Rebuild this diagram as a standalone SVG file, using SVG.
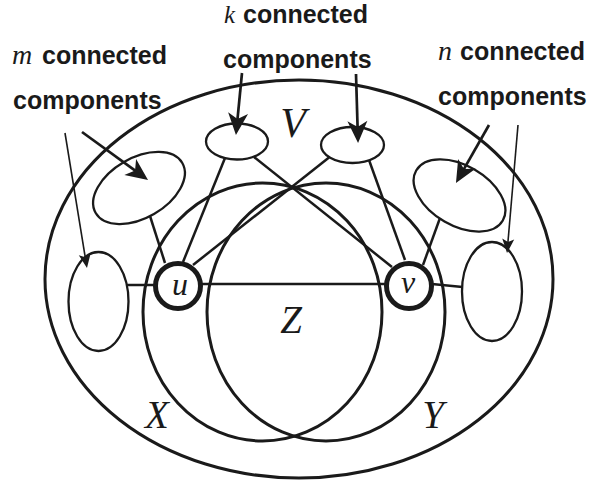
<svg xmlns="http://www.w3.org/2000/svg" width="591" height="484" viewBox="0 0 591 484">
<style>
.big{fill:none;stroke:#1a1a1a;stroke-width:3}
.comp{fill:none;stroke:#1a1a1a;stroke-width:2.3}
.edge{fill:none;stroke:#1a1a1a;stroke-width:2.5}
.arrow{fill:none;stroke:#1a1a1a;stroke-width:2.7}
.thin{fill:none;stroke:#1a1a1a;stroke-width:1.6}
.vert{fill:#fff;stroke:#1a1a1a;stroke-width:5}
.lbl{font-family:"Liberation Sans",Arial,sans-serif;font-weight:bold;font-size:25px;fill:#1a1a1a}
.math{font-family:"Liberation Serif","Times New Roman",serif;font-style:italic;fill:#1a1a1a}
</style>
<defs>
<marker id="ah" viewBox="-11 -11 24 22" markerWidth="24" markerHeight="22" refX="0" refY="0" orient="auto" markerUnits="userSpaceOnUse">
<path d="M12,0 L-10,-10 L-4,0 L-10,10 Z" fill="#1a1a1a"/>
</marker>
<marker id="ahs" viewBox="-7 -7 16 14" markerWidth="16" markerHeight="14" refX="0" refY="0" orient="auto" markerUnits="userSpaceOnUse">
<path d="M8,0 L-6,-6 L-3,0 L-6,6 Z" fill="#1a1a1a"/>
</marker>
</defs>
<g id="V"><ellipse class="big" cx="299" cy="279" rx="254" ry="199"/></g>
<g id="X"><ellipse class="big" cx="262.5" cy="312" rx="119.5" ry="129"/></g>
<g id="Y"><ellipse class="big" cx="326" cy="312" rx="119" ry="129"/></g>
<g id="m-comp-upper"><ellipse class="comp" cx="139" cy="188" rx="50" ry="30" transform="rotate(-30 139 188)"/></g>
<g id="m-comp-lower"><ellipse class="comp" cx="98.5" cy="301.5" rx="30" ry="49.5"/></g>
<g id="k-comp-left"><ellipse class="comp" cx="237" cy="141.5" rx="31" ry="18"/></g>
<g id="k-comp-right"><ellipse class="comp" cx="352.5" cy="145" rx="31.5" ry="18"/></g>
<g id="n-comp-upper"><ellipse class="comp" cx="459.5" cy="195.5" rx="50" ry="30" transform="rotate(30 459.5 195.5)"/></g>
<g id="n-comp-lower"><ellipse class="comp" cx="492" cy="291.5" rx="30" ry="49.5"/></g>
<g id="connectors">
<line class="edge" x1="165" y1="263" x2="150" y2="216"/>
<line class="edge" x1="183" y1="262" x2="225" y2="158"/>
<line class="edge" x1="193" y1="265" x2="329" y2="157.5"/>
<line class="edge" x1="254" y1="157" x2="392" y2="267"/>
<line class="edge" x1="369" y1="160" x2="405" y2="260"/>
<line class="edge" x1="423" y1="265" x2="440" y2="218"/>
<line class="edge" x1="127" y1="285" x2="156" y2="285"/>
<line class="edge" x1="200" y1="284" x2="388" y2="284"/>
<line class="edge" x1="432" y1="284" x2="462.5" y2="287"/>
<line class="arrow" x1="82" y1="132" x2="138.3" y2="172.9" marker-end="url(#ah)"/>
<line class="arrow" x1="242" y1="73" x2="237.1" y2="123.1" marker-end="url(#ah)"/>
<line class="arrow" x1="356" y1="74" x2="357.7" y2="131" marker-end="url(#ah)"/>
<line class="arrow" x1="489" y1="125" x2="461.9" y2="172.6" marker-end="url(#ah)"/>
<line class="thin" x1="65" y1="133" x2="85.7" y2="260.1" marker-end="url(#ahs)"/>
<line class="thin" x1="518" y1="125" x2="507.7" y2="245" marker-end="url(#ahs)"/>
</g>
<g id="u"><circle class="vert" cx="178" cy="286" r="22.5"/><text class="math" x="180" y="295" font-size="32" text-anchor="middle">u</text></g>
<g id="v"><circle class="vert" cx="409" cy="286" r="22.5"/><text class="math" x="408" y="293" font-size="32" text-anchor="middle">v</text></g>
<g id="labels">
<text class="math" x="293" y="137" font-size="42" text-anchor="middle">V</text>
<text class="math" x="157" y="428" font-size="39" text-anchor="middle">X</text>
<text class="math" x="433" y="428" font-size="39" text-anchor="middle">Y</text>
<text class="math" x="291" y="333" font-size="39" text-anchor="middle">Z</text>
<text class="math" x="12" y="64" font-size="28">m</text>
<text class="lbl" x="42" y="64">connected</text>
<text class="lbl" x="13" y="109">components</text>
<text class="math" x="224" y="23" font-size="25">k</text>
<text class="lbl" x="243" y="23">connected</text>
<text class="lbl" x="223" y="68">components</text>
<text class="math" x="438" y="60" font-size="28">n</text>
<text class="lbl" x="460" y="60">connected</text>
<text class="lbl" x="438" y="105">components</text>
</g>
</svg>
